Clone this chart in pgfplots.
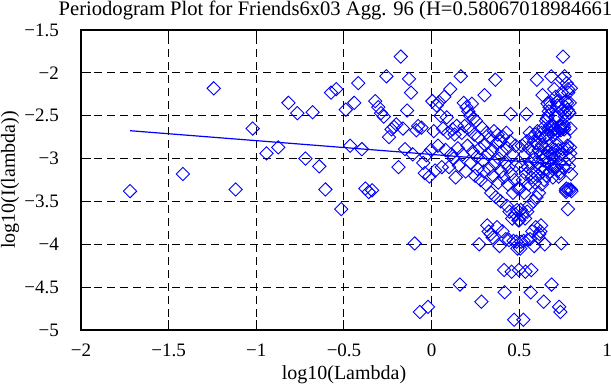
\documentclass[border=0pt]{standalone}
\usepackage{fontspec}
\setmainfont{Liberation Serif}
\usepackage{pgfplots}
\pgfplotsset{compat=1.18}
\begin{document}
\begin{tikzpicture}[font=\fontsize{10}{12}\selectfont]
\begin{axis}[
  scale only axis, width=263pt, height=150pt,
  xmin=-2, xmax=1, ymin=-5, ymax=-1.5,
  xtick={-2,-1.5,-1,-0.5,0,0.5,1},
  xticklabels={−2,−1.5,−1,−0.5,0,0.5,1},
  ytick={-5,-4.5,-4,-3.5,-3,-2.5,-2,-1.5},
  yticklabels={−5,−4.5,−4,−3.5,−3,−2.5,−2,−1.5},
  tick align=inside, major tick length=5pt,
  tick style={black, line width=0.5pt},
  ticklabel style={font=\fontsize{9.5}{11}\selectfont},
  xticklabel style={yshift=-3.5pt},
  yticklabel style={xshift=-7.5pt},
  axis line style={black, line width=1pt},
  grid=major,
  major grid style={black, line width=0.5pt, dash pattern=on 4pt off 2.5pt},
  clip=false,
]
\addplot[only marks, mark=square, mark size=2.35pt, color=blue, mark options={rotate=45, line width=0.45pt}] table {
x y
-1.720 -3.38
-1.419 -3.18
-1.243 -2.18
-1.118 -3.36
-1.021 -2.65
-0.942 -2.94
-0.875 -2.87
-0.817 -2.35
-0.766 -2.47
-0.720 -3.00
-0.679 -2.46
-0.641 -3.09
-0.606 -3.36
-0.574 -2.23
-0.544 -2.19
-0.516 -3.59
-0.490 -2.43
-0.465 -2.85
-0.442 -2.35
-0.419 -2.12
-0.398 -2.89
-0.378 -3.35
-0.359 -3.39
-0.340 -3.37
-0.322 -2.33
-0.305 -2.40
-0.289 -2.47
-0.273 -2.51
-0.258 -2.04
-0.243 -2.75
-0.229 -2.66
-0.215 -2.63
-0.202 -2.60
-0.189 -3.10
-0.176 -1.81
-0.164 -2.65
-0.152 -2.89
-0.140 -2.44
-0.129 -2.07
-0.118 -2.23
-0.108 -2.95
-0.097 -3.99
-0.087 -2.67
-0.077 -2.62
-0.067 -4.79
-0.058 -2.64
-0.048 -3.05
-0.039 -3.17
-0.030 -2.96
-0.021 -4.73
-0.013 -3.21
-0.004 -2.90
0.004 -2.33
0.012 -2.68
0.020 -3.14
0.028 -2.38
0.036 -2.85
0.043 -2.34
0.051 -2.50
0.058 -3.10
0.065 -2.65
0.072 -2.28
0.079 -2.90
0.086 -2.52
0.093 -2.70
0.099 -3.10
0.106 -2.19
0.112 -2.95
0.119 -2.66
0.125 -3.00
0.131 -2.72
0.137 -3.22
0.143 -2.62
0.149 -2.88
0.155 -3.08
0.161 -4.47
0.166 -2.04
0.172 -2.70
0.177 -2.95
0.183 -2.35
0.188 -2.62
0.194 -3.15
0.199 -2.40
0.204 -2.85
0.209 -2.45
0.214 -2.66
0.219 -2.50
0.224 -3.05
0.229 -2.36
0.234 -2.92
0.239 -2.53
0.243 -2.72
0.248 -3.20
0.253 -2.56
0.257 -2.98
0.262 -3.12
0.266 -2.75
0.271 -4.00
0.275 -2.88
0.280 -3.25
0.284 -4.67
0.288 -2.64
0.293 -3.02
0.297 -3.15
0.301 -2.26
0.305 -2.84
0.309 -3.30
0.313 -2.70
0.317 -3.78
0.321 -2.95
0.325 -3.85
0.329 -3.12
0.333 -2.76
0.337 -3.88
0.340 -3.40
0.344 -2.90
0.348 -3.92
0.352 -3.20
0.355 -2.68
0.359 -3.05
0.363 -2.08
0.366 -3.45
0.370 -2.82
0.373 -3.80
0.377 -2.72
0.380 -3.28
0.384 -3.00
0.387 -4.02
0.390 -2.80
0.394 -3.50
0.397 -3.15
0.400 -2.92
0.404 -3.85
0.407 -2.75
0.410 -3.22
0.413 -4.30
0.416 -4.56
0.420 -3.05
0.423 -3.94
0.426 -2.70
0.429 -3.55
0.432 -2.88
0.435 -3.30
0.438 -3.10
0.441 -3.95
0.444 -3.62
0.447 -2.80
0.450 -2.48
0.453 -3.18
0.456 -4.32
0.459 -3.70
0.462 -2.95
0.464 -3.40
0.467 -3.96
0.470 -4.88
0.473 -3.25
0.476 -3.65
0.478 -2.85
0.481 -3.08
0.484 -3.97
0.487 -3.60
0.489 -4.05
0.492 -3.35
0.495 -3.72
0.497 -4.30
0.500 -3.72
0.502 -3.35
0.505 -4.05
0.508 -3.60
0.510 -3.97
0.513 -3.08
0.515 -2.85
0.518 -3.65
0.520 -3.25
0.523 -4.88
0.525 -3.96
0.528 -3.40
0.530 -2.95
0.533 -3.70
0.535 -4.32
0.537 -3.18
0.540 -2.48
0.542 -2.80
0.545 -3.62
0.547 -3.95
0.549 -3.10
0.552 -3.30
0.554 -2.88
0.556 -3.55
0.559 -2.70
0.561 -3.94
0.563 -3.05
0.565 -4.56
0.568 -4.30
0.570 -3.22
0.572 -2.75
0.574 -3.85
0.576 -2.92
0.579 -3.15
0.581 -3.50
0.583 -2.80
0.585 -4.02
0.587 -3.00
0.589 -3.28
0.591 -2.72
0.593 -3.80
0.596 -2.82
0.598 -3.45
0.600 -2.08
0.602 -3.05
0.604 -2.68
0.606 -3.20
0.608 -3.92
0.610 -2.90
0.612 -3.40
0.614 -3.88
0.616 -2.76
0.618 -3.12
0.620 -3.85
0.622 -2.95
0.624 -3.78
0.626 -2.70
0.628 -3.30
0.630 -2.84
0.632 -2.26
0.634 -3.15
0.636 -3.02
0.637 -2.64
0.639 -4.67
0.641 -3.25
0.643 -2.88
0.645 -4.00
0.647 -2.75
0.649 -3.12
0.650 -2.98
0.652 -2.56
0.654 -3.20
0.656 -2.72
0.658 -2.53
0.660 -2.92
0.661 -2.36
0.663 -3.05
0.665 -2.50
0.667 -2.66
0.668 -2.45
0.670 -2.85
0.672 -2.40
0.674 -3.15
0.675 -2.62
0.677 -2.35
0.679 -2.95
0.681 -2.70
0.682 -2.04
0.684 -4.47
0.686 -3.08
0.687 -2.88
0.689 -2.62
0.691 -3.22
0.693 -2.72
0.694 -3.00
0.696 -2.66
0.698 -2.95
0.699 -2.19
0.701 -3.10
0.703 -2.70
0.704 -2.52
0.706 -2.90
0.707 -2.28
0.709 -2.65
0.711 -3.10
0.712 -2.50
0.714 -2.34
0.715 -2.85
0.717 -2.38
0.719 -3.14
0.720 -2.68
0.722 -2.33
0.723 -2.90
0.725 -3.21
0.727 -4.73
0.728 -2.96
0.730 -3.17
0.731 -3.05
0.733 -2.64
0.734 -4.79
0.736 -2.62
0.737 -2.67
0.739 -3.99
0.740 -2.95
0.742 -2.23
0.743 -2.07
0.745 -2.44
0.746 -2.89
0.748 -2.65
0.749 -1.81
0.751 -3.10
0.752 -2.60
0.754 -2.63
0.755 -2.66
0.757 -2.75
0.758 -2.04
0.760 -2.51
0.761 -2.47
0.763 -2.40
0.764 -2.33
0.765 -3.37
0.767 -3.39
0.768 -3.35
0.770 -2.89
0.771 -2.12
0.772 -2.35
0.774 -2.85
0.775 -2.43
0.777 -3.59
0.778 -2.19
0.779 -2.23
0.781 -3.36
0.782 -3.09
0.783 -2.46
0.785 -3.00
0.786 -2.47
0.787 -2.35
0.789 -2.87
0.790 -2.94
0.791 -2.65
0.793 -3.36
0.794 -2.18
0.795 -3.18
0.797 -3.38
};
\addplot[blue, line width=0.6pt] coordinates {(-1.720,-2.675) (0.797,-3.080)};
\end{axis}
\node[font=\fontsize{10.3}{12}\selectfont] at ([yshift=10pt]current axis.north) {Periodogram Plot for Friends6x03 Agg. 96 (H=0.580670189846614)};
\node at ([yshift=-22.5pt]current axis.south) {log10(Lambda)};
\node[rotate=90] at ([xshift=-35.5pt]current axis.west) {log10(I(lambda))};
\pgfresetboundingbox
\path[use as bounding box] ([xshift=-40.5pt,yshift=-27.5pt]current axis.south west) rectangle ([xshift=2pt,yshift=15pt]current axis.north east);
\end{tikzpicture}
\end{document}
